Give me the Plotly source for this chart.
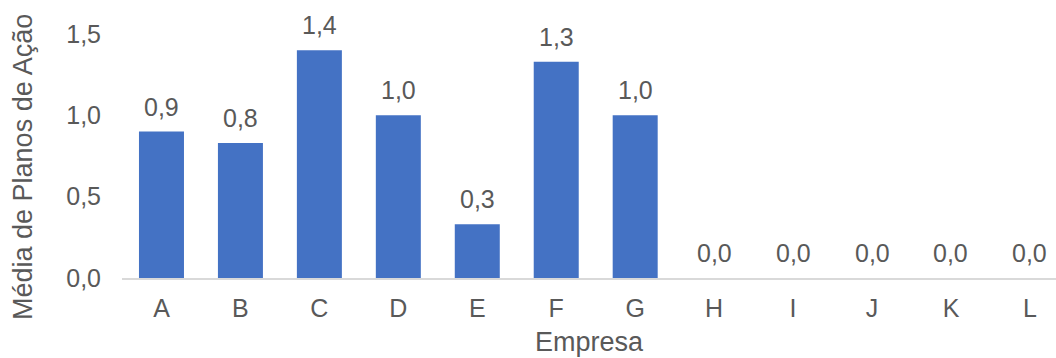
import plotly.graph_objects as go

empresas = ["A", "B", "C", "D", "E", "F", "G", "H", "I", "J", "K", "L"]
medias = [0.90, 0.83, 1.40, 1.00, 0.33, 1.33, 1.00, 0.0, 0.0, 0.0, 0.0, 0.0]
y_ticks = [0.0, 0.5, 1.0, 1.5]

FONT = "Liberation Sans, Arial, sans-serif"
GRAY = "#595959"
TICK_SIZE = 25

fig = go.Figure()
fig.add_trace(go.Bar(
    x=empresas, y=medias,
    marker=dict(color="#4472C4", line=dict(width=0)),
    hoverinfo="skip",
))

for e, v in zip(empresas, medias):
    fig.add_annotation(
        x=e, y=v, xref="x", yref="y",
        text=f"{v:.1f}".replace(".", ","),
        showarrow=False, yanchor="middle", yshift=25,
        font=dict(family=FONT, size=TICK_SIZE, color=GRAY),
    )

# y-axis title placed as rotated annotation
fig.add_annotation(
    xref="paper", yref="paper", x=0, y=0.5,
    xanchor="center", yanchor="middle", xshift=-99, yshift=-11,
    textangle=-90, showarrow=False,
    text="Média de Planos de Ação",
    font=dict(family=FONT, size=27, color=GRAY),
)

fig.update_layout(
    width=1056, height=358,
    margin=dict(l=122, r=0, t=34, b=80),
    paper_bgcolor="white", plot_bgcolor="white",
    bargap=0.43,
    separators=",.",
    showlegend=False,
    font=dict(family=FONT, color=GRAY),
)
fig.update_xaxes(
    range=[-0.5, 11.33],
    showline=True, linecolor="#d9d9d9", linewidth=2,
    showgrid=False, ticks="", ticklabelstandoff=7,
    tickfont=dict(family=FONT, size=TICK_SIZE, color=GRAY),
    title=dict(text="Empresa", font=dict(family=FONT, size=27, color=GRAY), standoff=11),
)
fig.update_yaxes(
    range=[0, 1.5], tickvals=y_ticks, tickformat=".1f",
    showline=False, showgrid=False, zeroline=False, ticks="",
    ticklabelstandoff=20,
    tickfont=dict(family=FONT, size=TICK_SIZE, color=GRAY),
)

fig.write_html("out.html")
